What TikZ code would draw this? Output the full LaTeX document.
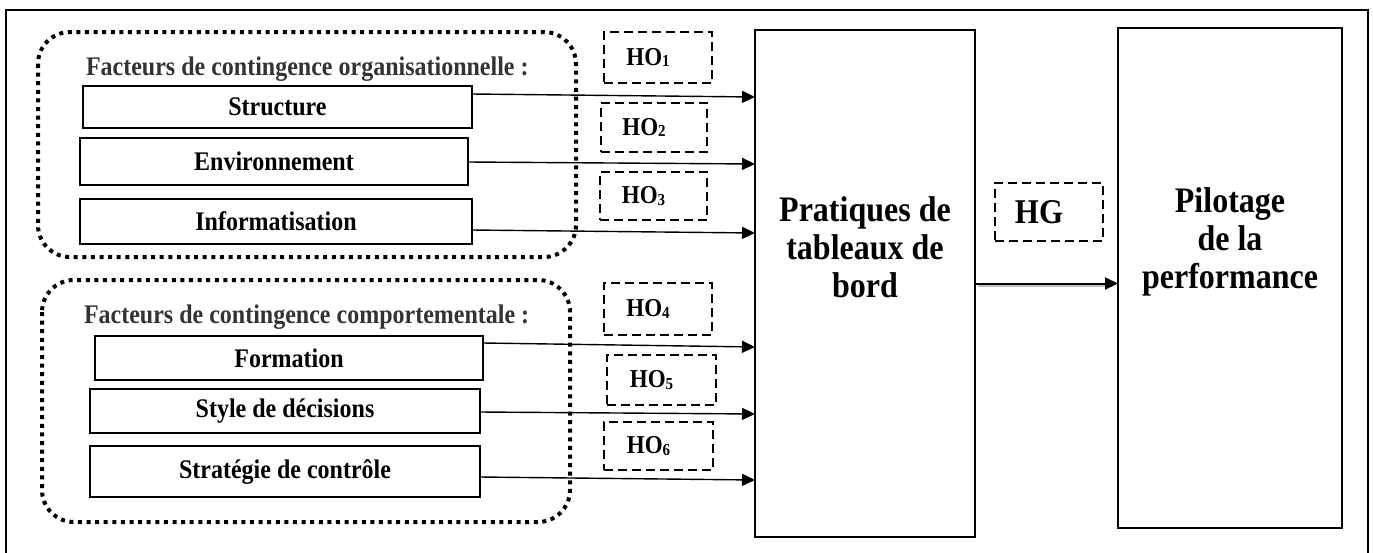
\documentclass[tikz,border=0pt]{standalone}
\usepackage{fontspec}
\setmainfont{Liberation Serif}
\usetikzlibrary{arrows.meta,calc}
\newcommand{\vst}[1]{\scalebox{1}[1.12]{#1}}
\newcommand{\hosub}[1]{\vst{HO{\fontsize{15}{15}\selectfont\raisebox{-1pt}{#1}}}}
\begin{document}
\begin{tikzpicture}[x=1pt,y=-1pt,
  every node/.style={inner sep=0pt,outer sep=0pt},
  factbox/.style={draw,line width=2.2pt,rectangle,anchor=north west,
    font=\fontsize{24}{28}\selectfont\bfseries},
  grpbox/.style={line width=4pt,dash pattern=on 4pt off 4.6pt,rounded corners=32pt},
  hobox/.style={draw,line width=2.4pt,dash pattern=on 9pt off 5pt,anchor=north west,
    font=\fontsize{23}{26}\selectfont\bfseries},
  bigbox/.style={draw,line width=2pt,anchor=north west},
  bigtext/.style={align=center,font=\fontsize{32}{38}\selectfont\bfseries},
  grptitle/.style={anchor=base west,text=black!80,font=\fontsize{24}{28}\selectfont\bfseries},
  arr/.style={line width=1.4pt,-{Triangle[length=13pt,width=12pt]}}]
\useasboundingbox (0,0) rectangle (1373,552);
% outer frame
\draw[line width=2pt] (6,560) -- (6,10) -- (1368,10) -- (1368,560);
% groups
\draw[grpbox] (38,32) rectangle (576,257);
\draw[grpbox] (42,280) rectangle (570,522);
\node[grptitle] (t1) at (86,75) {\vst{Facteurs de contingence organisationnelle :}};
\node[grptitle] (t2) at (84,323) {\vst{Facteurs de contingence comportementale :}};
% factor boxes
\node[factbox,minimum width=389pt,minimum height=42pt] (s1) at (83,86) {\vst{Structure}};
\node[factbox,minimum width=388pt,minimum height=47pt] (s2) at (80,138) {\vst{Environnement}};
\node[factbox,minimum width=392pt,minimum height=45pt] (s3) at (80,199) {\vst{Informatisation}};
\node[factbox,minimum width=388pt,minimum height=44pt] (s4) at (95,336) {\vst{Formation}};
\node[factbox,minimum width=390pt,minimum height=44pt] (s5) at (90,389) {\vst{Style de décisions}};
\node[factbox,minimum width=390pt,minimum height=51pt] (s6) at (90,446) {\vst{Stratégie de contrôle}};
% hypothesis boxes
\node[hobox,minimum width=108pt,minimum height=51pt] (h1) at (604,32) {\hosub{1}\hspace*{20pt}};
\node[hobox,minimum width=106pt,minimum height=49pt] (h2) at (601,103) {\hosub{2}\hspace*{20pt}};
\node[hobox,minimum width=107pt,minimum height=48pt] (h3) at (600,172) {\hosub{3}\hspace*{20pt}};
\node[hobox,minimum width=108pt,minimum height=52pt] (h4) at (604,283) {\hosub{4}\hspace*{20pt}};
\node[hobox,minimum width=109pt,minimum height=50pt] (h5) at (607,355) {\hosub{5}\hspace*{20pt}};
\node[hobox,minimum width=109pt,minimum height=48pt] (h6) at (604,422) {\hosub{6}\hspace*{20pt}};
\node[hobox,minimum width=108pt,minimum height=58pt,font=\fontsize{31}{34}\selectfont\bfseries] (hg) at (995,183) {\vst{HG}\hspace*{20pt}};
% main boxes
\node[bigbox,minimum width=220pt,minimum height=507pt] (p) at (755,30) {};
\node[bigtext] (pt) at ($(p.center)+(0,-36)$) {\vst{Pratiques de}\\\vst{tableaux de}\\\vst{bord}};
\node[bigbox,minimum width=224pt,minimum height=500pt] (q) at (1118,28) {};
\node[bigtext] (qt) at ($(q.center)+(0,-36)$) {\vst{Pilotage}\\\vst{de la}\\\vst{performance}};
% arrows
\draw[arr] ($(s1.north east)+(0,8)$) -- ($(p.west |- s1.north east)+(0,11)$);
\draw[arr] ($(s2.north east)+(0,24)$) -- ($(p.west |- s2.north east)+(0,26)$);
\draw[arr] ($(s3.north east)+(0,31)$) -- ($(p.west |- s3.north east)+(0,34)$);
\draw[arr] ($(s4.north east)+(0,7)$) -- ($(p.west |- s4.north east)+(0,11)$);
\draw[arr] ($(s5.north east)+(0,23)$) -- ($(p.west |- s5.north east)+(0,25)$);
\draw[arr] ($(s6.north east)+(0,31)$) -- ($(p.west |- s6.north east)+(0,34)$);
\draw[black!25,line width=3pt] ($(p.east)+(3,2)$) -- ($(q.west |- p.east)+(-12,2)$);
\draw[arr,line width=2pt] (p.east) -- (q.west |- p.east);
\end{tikzpicture}
\end{document}
